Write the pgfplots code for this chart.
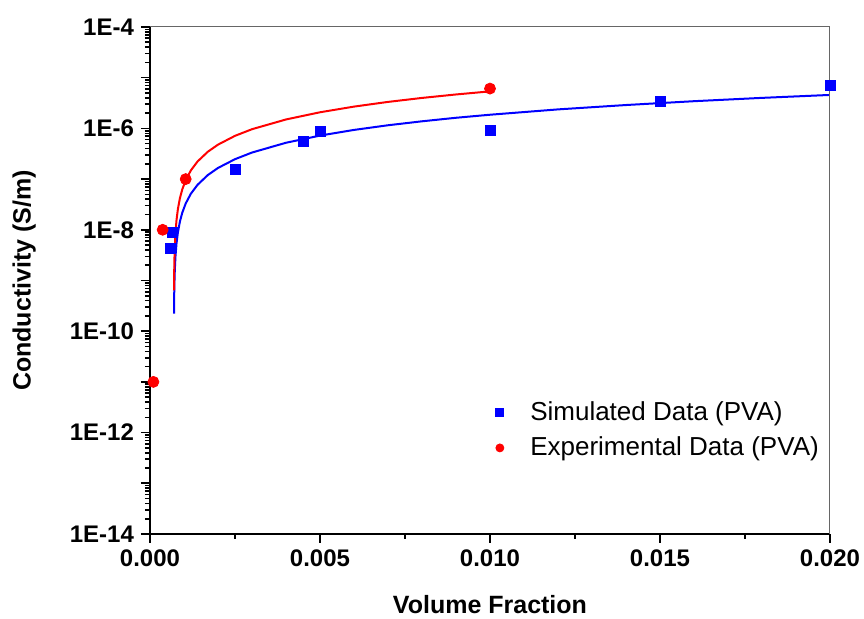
\documentclass[border=0pt]{standalone}
\usepackage{pgfplots}
\pgfplotsset{compat=1.18}
\usepackage{fontspec}
\setmainfont{Liberation Sans}
\begin{document}
\begin{tikzpicture}
\begin{axis}[
  scale only axis, width=340pt, height=253.5pt,
  at={(0,0)}, anchor=south west,
  xmin=0, xmax=0.02, ymode=log, ymin=1e-14, ymax=1e-4,
  axis lines*=left,
  x axis line style={-, line width=1pt, black},
  y axis line style={-, line width=1pt, black},
  tick align=outside, major tick length=4.5pt, minor tick length=2.5pt,
  every tick/.style={black, line width=0.8pt},
  scaled x ticks=false,
  xtick={0,0.005,0.01,0.015,0.02},
  xticklabels={0.000,0.005,0.010,0.015,0.020},
  minor xtick={0.0025,0.0075,0.0125,0.0175},
  ytick={1e-14,1e-13,1e-12,1e-11,1e-10,1e-9,1e-8,1e-7,1e-6,1e-5,1e-4},
  yticklabels={1E-14,,1E-12,,1E-10,,1E-8,,1E-6,,1E-4},
  minor ytick={2e-14,3e-14,4e-14,5e-14,6e-14,7e-14,8e-14,9e-14,
               2e-13,3e-13,4e-13,5e-13,6e-13,7e-13,8e-13,9e-13,
               2e-12,3e-12,4e-12,5e-12,6e-12,7e-12,8e-12,9e-12,
               2e-11,3e-11,4e-11,5e-11,6e-11,7e-11,8e-11,9e-11,
               2e-10,3e-10,4e-10,5e-10,6e-10,7e-10,8e-10,9e-10,
               2e-9,3e-9,4e-9,5e-9,6e-9,7e-9,8e-9,9e-9,
               2e-8,3e-8,4e-8,5e-8,6e-8,7e-8,8e-8,9e-8,
               2e-7,3e-7,4e-7,5e-7,6e-7,7e-7,8e-7,9e-7,
               2e-6,3e-6,4e-6,5e-6,6e-6,7e-6,8e-6,9e-6,
               2e-5,3e-5,4e-5,5e-5,6e-5,7e-5,8e-5,9e-5},
  ticklabel style={font=\bfseries\fontsize{12}{14}\selectfont},
  xlabel={Volume Fraction},
  ylabel={Conductivity (S/m)},
  xlabel style={font=\bfseries\fontsize{12.5}{15}\selectfont, at={(axis description cs:0.5,-0.14)}, anchor=center},
  ylabel style={font=\bfseries\fontsize{12.5}{15}\selectfont, at={(axis description cs:-0.185,0.5)}, anchor=center, rotate=0},
  legend style={at={(0.481,0.277)}, anchor=north west, draw=none, fill=none,
    font=\fontsize{13}{15}\selectfont, row sep=2.6pt},
  legend cell align=left,
  legend image code/.code={\path (0pt,0pt) (21pt,0pt); \draw[#1, mark size=2pt] plot coordinates {(8pt,0pt)};},
]
% fitted curves
\addplot[blue, line width=1pt, forget plot] coordinates {
(0.000706,2.22e-10) (0.00071,4.16e-10) (0.000715,6.85e-10) (0.00072,9.75e-10)
(0.00073,1.61e-9) (0.00075,3.01e-9) (0.00078,5.37e-9) (0.00082,8.83e-9)
(0.00088,1.455e-8) (0.00095,2.18e-8) (0.00105,3.30e-8) (0.0012,5.12e-8)
(0.0014,7.73e-8) (0.0017,1.20e-7) (0.002,1.66e-7) (0.0025,2.47e-7)
(0.003,3.34e-7) (0.004,5.21e-7) (0.005,7.21e-7) (0.006,9.33e-7)
(0.007,1.153e-6) (0.008,1.38e-6) (0.009,1.62e-6) (0.010,1.86e-6)
(0.012,2.37e-6) (0.014,2.89e-6) (0.016,3.44e-6) (0.018,4.00e-6)
(0.020,4.57e-6)
};
\addplot[red, line width=1pt, forget plot] coordinates {
(0.000706,6.40e-10) (0.00071,1.20e-9) (0.000715,1.98e-9) (0.00072,2.81e-9)
(0.00073,4.63e-9) (0.00075,8.69e-9) (0.00078,1.55e-8) (0.00082,2.55e-8)
(0.00088,4.20e-8) (0.00095,6.28e-8) (0.00105,9.51e-8) (0.0012,1.476e-7)
(0.0014,2.23e-7) (0.0017,3.46e-7) (0.002,4.78e-7) (0.0025,7.13e-7)
(0.003,9.64e-7) (0.004,1.50e-6) (0.005,2.08e-6) (0.006,2.69e-6)
(0.007,3.33e-6) (0.008,3.99e-6) (0.009,4.67e-6) (0.010,5.37e-6)
};
\addplot[only marks, mark=square*, mark size=2.5pt, color=blue] coordinates {
(0.000588,4.27e-9) (0.000667,8.9e-9) (0.0025,1.58e-7) (0.00451,5.52e-7)
(0.005,8.7e-7) (0.010,9.1e-7) (0.015,3.39e-6) (0.020,6.98e-6)
};
\addlegendentry{Simulated Data (PVA)}
\addplot[only marks, mark=*, mark size=2.75pt, color=red] coordinates {
(0.0001,1e-11) (0.000373,1e-8) (0.00105,1e-7) (0.010,6.1e-6)
};
\addlegendentry{Experimental Data (PVA)}
\draw[black!60, line width=0.5pt] (rel axis cs:0,1) -- (rel axis cs:1,1) -- (rel axis cs:1,0);
\end{axis}
\pgfresetboundingbox
\useasboundingbox (-75pt,-42.5pt) rectangle (357pt,267pt);
\end{tikzpicture}
\end{document}
